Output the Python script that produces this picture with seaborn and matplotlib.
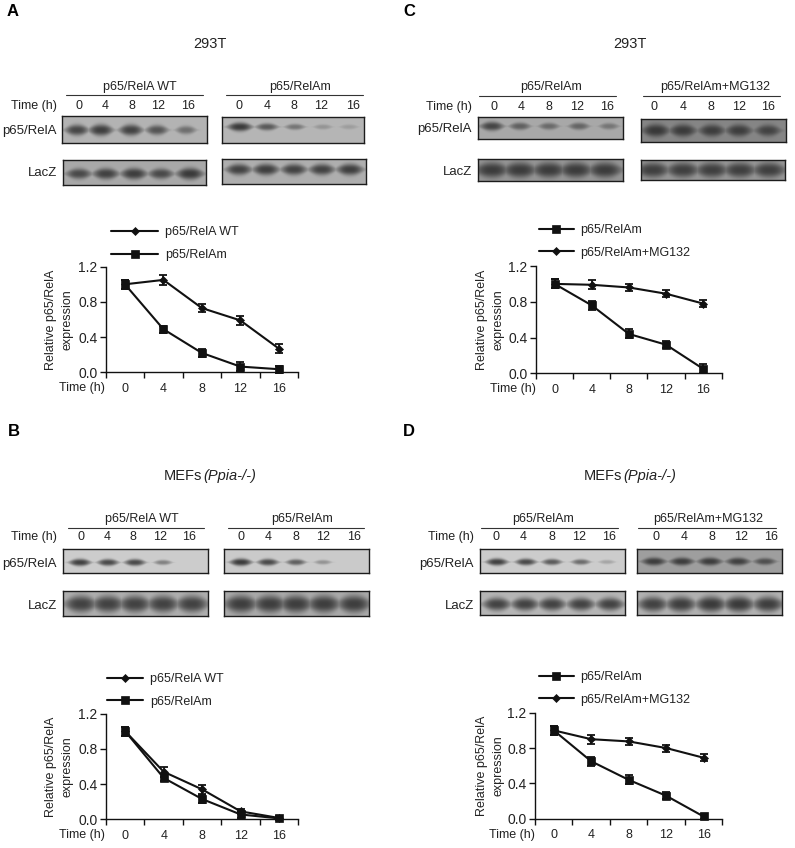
import numpy as np
import pandas as pd
import matplotlib
matplotlib.use("Agg")
import matplotlib.pyplot as plt
import seaborn as sns

W, H = 795, 848

times = ["0", "4", "8", "12", "16"]
yticks = [0.0, 0.4, 0.8, 1.2]

# line chart values
a_wt = [1.00, 1.05, 0.73, 0.59, 0.27]
a_wt_err = [0.05, 0.06, 0.05, 0.05, 0.05]
a_am = [1.00, 0.49, 0.22, 0.065, 0.035]
a_am_err = [0.05, 0.04, 0.05, 0.05, 0.04]

b_wt = [1.00, 0.54, 0.34, 0.09, 0.015]
b_wt_err = [0.05, 0.06, 0.05, 0.03, 0.02]
b_am = [1.00, 0.47, 0.23, 0.055, 0.01]
b_am_err = [0.05, 0.04, 0.05, 0.04, 0.02]

c_am = [1.00, 0.76, 0.44, 0.32, 0.05]
c_am_err = [0.05, 0.05, 0.05, 0.04, 0.05]
c_mg = [1.00, 0.99, 0.96, 0.89, 0.78]
c_mg_err = [0.05, 0.05, 0.04, 0.04, 0.04]

d_am = [1.00, 0.65, 0.44, 0.26, 0.025]
d_am_err = [0.05, 0.05, 0.05, 0.04, 0.03]
d_mg = [1.00, 0.90, 0.875, 0.80, 0.69]
d_mg_err = [0.05, 0.05, 0.04, 0.04, 0.04]

# band strength on the blots, estimated by eye
a_rela_wt = [0.75, 0.85, 0.80, 0.60, 0.35]
a_rela_am = [0.90, 0.55, 0.30, 0.10, 0.06]
a_lacz_wt = [0.70, 0.80, 0.85, 0.70, 0.90]
a_lacz_am = [0.80, 0.85, 0.80, 0.80, 0.85]

b_rela_wt = [0.85, 0.75, 0.75, 0.30, 0.00]
b_rela_am = [0.90, 0.75, 0.55, 0.18, 0.00]
b_lacz_wt = [0.80, 0.80, 0.80, 0.80, 0.80]
b_lacz_am = [0.85, 0.85, 0.85, 0.85, 0.85]

c_rela_am = [0.75, 0.45, 0.35, 0.40, 0.25]
c_rela_mg = [0.90, 0.85, 0.80, 0.80, 0.70]
c_lacz_am = [0.85, 0.85, 0.85, 0.85, 0.85]
c_lacz_mg = [0.80, 0.80, 0.80, 0.80, 0.80]

d_rela_am = [0.85, 0.75, 0.60, 0.45, 0.10]
d_rela_mg = [0.85, 0.85, 0.85, 0.80, 0.60]
d_lacz_am = [0.80, 0.80, 0.80, 0.80, 0.80]
d_lacz_mg = [0.80, 0.85, 0.90, 0.90, 0.85]

sns.set_style("ticks")
plt.rcParams["font.family"] = ["Liberation Sans", "DejaVu Sans"]
TEXT = "#222222"
LINE = "#111111"

fig = plt.figure(figsize=(W / 100, H / 100), dpi=100, facecolor="white")


def px_axes(x0, y0, x1, y1):
    return fig.add_axes([x0 / W, 1 - y1 / H, (x1 - x0) / W, (y1 - y0) / H])


def px_text(x, y, s, **kw):
    kw.setdefault("fontsize", 9)
    kw.setdefault("color", TEXT)
    kw.setdefault("va", "center")
    return fig.text(x / W, 1 - y / H, s, **kw)


def draw_blot(rect, strengths, band_x, bg, band_y, half_w, half_h):
    # rect and band_x in figure pixels, bands are soft dark blobs on a grey film
    x0, y0, x1, y1 = rect
    nx, ny = int(x1 - x0), int(y1 - y0)
    xx, yy = np.meshgrid(np.arange(nx) + x0 + 0.5, np.arange(ny) + 0.5)
    dark = np.zeros_like(xx)
    for s, xc in zip(strengths, band_x):
        hh = half_h * (0.5 + 0.5 * s)
        hw = half_w * 1.1 * (0.7 + 0.3 * s)
        # ends of a band taper, so the height shrinks away from its centre
        taper = np.clip(1 - 0.5 * (np.abs(xx - xc) / hw) ** 2, 0.3, 1)
        blob = np.exp(-(np.abs(xx - xc) / hw) ** 3 - (np.abs(yy - band_y * ny) / (hh * taper)) ** 2.5)
        dark = np.maximum(dark, s ** 0.6 * blob)
    img = bg * (1 - dark) + 0.2 * dark
    ax = px_axes(*rect)
    sns.heatmap(img, cmap="gray", vmin=0, vmax=1, cbar=False, ax=ax,
                xticklabels=False, yticklabels=False)
    for side in ax.spines.values():
        side.set_visible(True)
        side.set_linewidth(1.0)
        side.set_color("#1c1c1c")


def draw_group(title, cx, line_x0, line_x1, line_y, title_y, tick_y, tick_x):
    px_text(cx, title_y, title, ha="center")
    fig.add_artist(plt.Line2D([line_x0 / W, line_x1 / W], [1 - line_y / H] * 2,
                              color="#333333", lw=0.8))
    for lab, x in zip(times, tick_x):
        px_text(x, tick_y, lab, ha="center")


def draw_chart(rect, series, time_x, label_x, legend_xy, handle):
    ax = px_axes(*rect)
    pos = np.arange(len(times))
    for name, vals, errs, marker, size in series:
        frame = pd.DataFrame({"pos": pos, "value": vals})
        sns.lineplot(data=frame, x="pos", y="value", ax=ax, color=LINE, lw=1.5,
                     marker=marker, markersize=size, markeredgecolor=LINE,
                     markeredgewidth=0.5, label=name, errorbar=None, clip_on=False)
        ax.errorbar(pos, vals, yerr=errs, fmt="none", ecolor=LINE, elinewidth=1.3,
                    capsize=3, capthick=1.3, clip_on=False)
    ax.set_xlim(-0.5, 4.5)
    ax.set_ylim(0, 1.2)
    ax.set_yticks(yticks)
    ax.set_yticklabels([f"{t:.1f}" for t in yticks], fontsize=10, color=TEXT)
    ax.set_xticks(pos)
    ax.set_xticklabels(times, fontsize=9, color=TEXT)
    ax.set_xticks(np.arange(-0.5, 5), minor=True)
    ax.tick_params(axis="x", which="major", length=0, pad=7.5)
    ax.tick_params(axis="x", which="minor", length=4, width=1, color=LINE)
    ax.tick_params(axis="y", length=4, width=1, color=LINE, pad=2)
    ax.set_xlabel("")
    ax.set_ylabel("")
    sns.despine(ax=ax)
    for side in ["left", "bottom"]:
        ax.spines[side].set_linewidth(1.0)
        ax.spines[side].set_color(LINE)
    x0, y0, x1, y1 = rect
    px_text(time_x, y1 + 16, "Time (h)", ha="right")
    px_text(label_x, (y0 + y1) / 2, "Relative p65/RelA\nexpression", ha="center",
            rotation=90, multialignment="center", linespacing=1.45)
    ax.legend(loc="upper left", frameon=False, fontsize=9, handlelength=handle,
              handletextpad=0.55, labelspacing=0.85, borderpad=0, borderaxespad=0,
              labelcolor=TEXT,
              bbox_to_anchor=(legend_xy[0] / W, 1 - legend_xy[1] / H),
              bbox_transform=fig.transFigure)


def draw_row_labels(right, rela_y, lacz_y, time_y):
    px_text(right, time_y, "Time (h)", ha="right")
    px_text(right, rela_y, "p65/RelA", ha="right", fontsize=9.5)
    px_text(right, lacz_y, "LacZ", ha="right", fontsize=9.5)


# panel A
px_text(7, 12, "A", fontsize=12, fontweight="bold", color="black")
px_text(210, 44, "293T", fontsize=10.5, ha="center")
draw_row_labels(57, 131, 173, 106)
draw_group("p65/RelA WT", 140, 66, 203, 95, 87, 106, [79, 105, 132, 158, 188])
draw_group("p65/RelAm", 300, 226, 363, 95, 87, 106, [239, 267, 294, 321, 353])
draw_blot((62, 116, 207, 143), a_rela_wt, [77, 101, 131, 157, 186], 0.70, 0.52, 11, 6)
draw_blot((222, 117, 364, 143), a_rela_am, [240, 267, 295, 323, 349], 0.71, 0.38, 11, 4.5)
draw_blot((63, 160, 206, 185), a_lacz_wt, [79, 106, 134, 161, 190], 0.66, 0.55, 12, 6)
draw_blot((222, 159, 366, 184), a_lacz_am, [239, 266, 294, 322, 350], 0.68, 0.42, 12, 6)
draw_chart((105.7, 266.7, 298, 372.3),
           [("p65/RelA WT", a_wt, a_wt_err, "D", 3.6), ("p65/RelAm", a_am, a_am_err, "s", 6)],
           105, 59, (111, 226.5), 3.76)

# panel B
px_text(8, 432, "B", fontsize=12, fontweight="bold", color="black")
fig.text(164 / W, 1 - 476 / H, "MEFs", fontsize=10.5, color=TEXT, va="center")
px_text(203, 476, "(Ppia-/-)", fontsize=10.5, style="italic")
draw_row_labels(57, 564, 606, 537)
draw_group("p65/RelA WT", 142, 68, 204, 528, 519, 537, [81, 107, 133, 160, 189])
draw_group("p65/RelAm", 302, 228, 364, 528, 519, 537, [241, 268, 296, 323, 354])
draw_blot((63, 549, 208, 573), b_rela_wt, [80, 108, 135, 163, 190], 0.80, 0.56, 10, 3.8)
draw_blot((224, 549, 369, 573), b_rela_am, [241, 268, 296, 323, 350], 0.79, 0.55, 10, 3.8)
draw_blot((63, 591, 208, 616), b_lacz_wt, [81, 108, 135, 163, 192], 0.68, 0.52, 15, 9)
draw_blot((224, 591, 369, 616), b_lacz_am, [241, 270, 296, 324, 354], 0.66, 0.52, 15, 9)
draw_chart((106, 713.7, 298.3, 819.3),
           [("p65/RelA WT", b_wt, b_wt_err, "D", 3.6), ("p65/RelAm", b_am, b_am_err, "s", 6)],
           105, 59, (107, 673), 2.9)

# panel C
px_text(403, 12, "C", fontsize=12, fontweight="bold", color="black")
px_text(630, 44, "293T", fontsize=10.5, ha="center")
draw_row_labels(472, 129, 172, 107)
draw_group("p65/RelAm", 551, 479, 616, 96, 87, 107, [494, 521, 549, 577, 607])
draw_group("p65/RelAm+MG132", 715, 643, 780, 96, 87, 107, [654, 683, 711, 739, 768])
draw_blot((478, 117, 623, 139), c_rela_am, [492, 520, 549, 579, 609], 0.66, 0.42, 11, 5)
draw_blot((641, 119, 786, 142), c_rela_mg, [656, 683, 712, 739, 768], 0.52, 0.50, 12, 6.5)
draw_blot((478, 159, 623, 181), c_lacz_am, [492, 520, 549, 576, 605], 0.58, 0.50, 15, 8)
draw_blot((641, 160, 785, 180), c_lacz_mg, [653, 683, 712, 740, 769], 0.58, 0.50, 15, 8)
draw_chart((536, 266, 721.7, 373.3),
           [("p65/RelAm", c_am, c_am_err, "s", 6), ("p65/RelAm+MG132", c_mg, c_mg_err, "D", 3.6)],
           536, 490.5, (539, 224), 2.78)

# panel D
px_text(403, 432, "D", fontsize=12, fontweight="bold", color="black")
fig.text(584 / W, 1 - 476 / H, "MEFs", fontsize=10.5, color=TEXT, va="center")
px_text(623, 476, "(Ppia-/-)", fontsize=10.5, style="italic")
draw_row_labels(474, 564, 606, 537)
draw_group("p65/RelAm", 543, 481, 618, 528, 519, 537, [496, 523, 552, 579, 609])
draw_group("p65/RelAm+MG132", 708, 638, 776, 528, 519, 537, [656, 684, 712, 741, 771])
draw_blot((480, 549, 625, 573), d_rela_am, [497, 526, 552, 581, 607], 0.80, 0.54, 10, 3.8)
draw_blot((637, 549, 782, 573), d_rela_mg, [654, 682, 710, 738, 765], 0.62, 0.52, 11, 4.2)
draw_blot((480, 591, 625, 615), d_lacz_am, [497, 525, 552, 581, 610], 0.71, 0.55, 13, 7)
draw_blot((637, 591, 782, 615), d_lacz_mg, [653, 681, 711, 739, 768], 0.69, 0.55, 14, 8)
draw_chart((535, 712.7, 722.3, 818.7),
           [("p65/RelAm", d_am, d_am_err, "s", 6), ("p65/RelAm+MG132", d_mg, d_mg_err, "D", 3.6)],
           535, 490.5, (539, 671), 2.78)

fig.savefig("out.png", dpi=100, facecolor="white")
